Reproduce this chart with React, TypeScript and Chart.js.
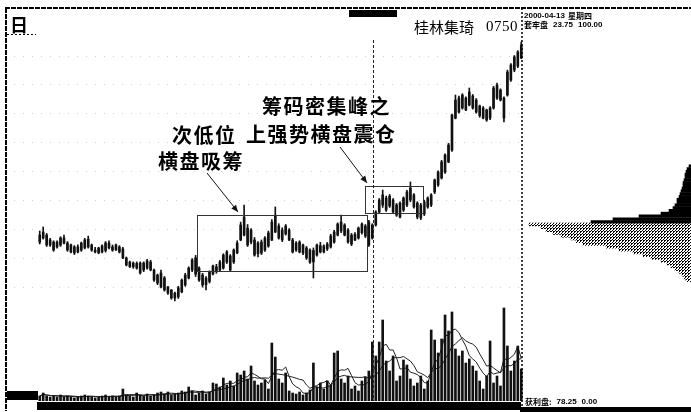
import React, { useEffect, useRef } from "react";
import { Chart, registerables } from "chart.js";

Chart.register(...registerables);

const PRICE_MIN = 3.94;
const PRICE_MAX = 28.0;
const VOL_MAX = 391;

const opens = [
  13.72, 13.97, 14.15, 13.85, 13.72, 13.42, 13.54, 13.97, 13.66, 13.54,
  13.05, 13.42, 13.23, 13.36, 13.9, 13.54, 13.23, 13.05, 13.11, 13.2,
  13.66, 13.42, 13.23, 13.42, 13.3, 12.74, 12.49, 12.2, 12.4, 12.43,
  12.0, 12.12, 12.49, 12.0, 11.69, 10.95, 11.51, 10.95, 10.77, 10.28,
  10.35, 10.65, 11.08, 11.51, 12.0, 12.75, 12.12, 11.69, 11.1, 11.3,
  11.75, 12.2, 12.0, 12.12, 12.49, 12.86, 12.49, 13.05, 13.85, 14.15,
  14.58, 13.72, 13.85, 13.0, 13.72, 13.23, 13.48, 13.85, 14.34, 14.71,
  14.46, 14.22, 14.46, 13.85, 13.23, 13.72, 13.05, 13.36, 13.23, 12.5,
  12.92, 13.5, 13.11, 13.3, 13.42, 13.72, 14.15, 14.4, 14.77, 14.46,
  13.6, 14.2, 13.97, 14.3, 14.71, 14.95, 13.97, 14.77, 15.57, 16.0,
  16.43, 15.94, 16.31, 15.38, 16.12, 15.69, 16.0, 16.31, 16.62, 16.12,
  15.2, 15.45, 15.88, 16.0, 16.8, 17.23, 17.66, 18.03, 18.65, 19.38,
  21.35, 22.58, 21.97, 22.58, 22.15, 22.71, 22.46, 21.5, 21.97, 21.23,
  21.97, 21.97, 22.58, 23.08, 22.58, 22.77, 23.69, 24.31, 25.42, 25.05,
];

const closes = [
  14.15, 14.34, 13.54, 13.54, 13.23, 13.72, 13.97, 13.66, 13.23, 13.11,
  13.42, 13.11, 13.66, 13.85, 13.42, 13.23, 13.11, 13.36, 13.48, 13.66,
  13.36, 13.23, 13.54, 13.11, 12.74, 12.31, 12.2, 12.43, 12.12, 11.82,
  12.43, 12.55, 12.0, 11.38, 11.2, 11.82, 10.77, 10.58, 10.28, 10.58,
  10.9, 11.38, 11.69, 12.12, 12.62, 11.75, 11.38, 11.08, 11.5, 11.88,
  12.25, 11.9, 12.49, 12.92, 13.11, 12.0, 13.23, 13.66, 14.77, 15.26,
  13.54, 14.46, 12.92, 13.66, 13.05, 13.97, 14.28, 14.95, 15.38, 13.97,
  13.85, 14.71, 13.85, 13.11, 13.66, 13.11, 13.54, 12.74, 12.49, 13.2,
  13.54, 13.11, 13.48, 13.6, 14.09, 14.34, 14.83, 14.95, 14.15, 13.72,
  14.15, 13.85, 14.58, 14.83, 14.09, 13.54, 14.77, 15.57, 16.31, 16.62,
  15.69, 16.55, 15.57, 16.0, 15.26, 16.43, 16.8, 17.05, 15.88, 15.26,
  16.0, 16.18, 16.43, 16.62, 17.54, 18.03, 18.65, 19.08, 19.69, 21.54,
  22.46, 21.72, 22.77, 21.85, 22.95, 21.97, 21.72, 22.09, 21.35, 21.85,
  21.35, 23.2, 23.38, 22.46, 21.35, 24.18, 24.62, 25.11, 24.55, 25.85,
];

const highs = [
  14.4, 14.65, 14.25, 13.95, 13.8, 13.8, 14.05, 14.15, 13.75, 13.6,
  13.5, 13.55, 13.72, 13.95, 14.09, 13.6, 13.4, 13.4, 13.55, 13.75,
  13.8, 13.54, 13.6, 13.5, 13.4, 12.8, 12.55, 12.5, 12.5, 12.5,
  12.5, 12.65, 12.6, 12.05, 11.75, 12.0, 11.6, 11.0, 10.8, 10.65,
  11.0, 11.45, 11.8, 12.2, 12.7, 12.9, 12.2, 11.8, 11.6, 11.95,
  12.3, 12.35, 12.6, 13.0, 13.2, 12.95, 13.3, 13.8, 14.95, 16.0,
  14.8, 14.55, 14.0, 13.75, 13.85, 14.05, 14.4, 15.1, 15.88, 14.85,
  14.6, 14.8, 14.55, 13.95, 13.75, 13.8, 13.6, 13.45, 13.3, 13.36,
  13.6, 13.7, 13.55, 13.7, 14.2, 14.45, 14.9, 15.38, 14.85, 14.55,
  14.25, 14.3, 14.65, 14.9, 14.8, 15.05, 14.85, 15.65, 16.4, 16.92,
  16.55, 16.65, 16.4, 16.1, 16.2, 16.5, 16.9, 17.42, 16.7, 16.2,
  16.1, 16.3, 16.5, 16.7, 17.6, 18.1, 18.75, 19.15, 19.8, 21.6,
  22.77, 22.7, 22.85, 22.65, 23.2, 22.8, 22.55, 22.15, 22.05, 21.9,
  22.05, 23.3, 23.5, 23.15, 22.65, 24.3, 24.7, 25.2, 25.5, 26.03,
];

const lows = [
  13.6, 13.9, 13.45, 13.45, 13.15, 13.35, 13.45, 13.6, 13.15, 13.05,
  12.95, 13.05, 13.15, 13.3, 13.35, 13.15, 13.05, 13.0, 13.05, 13.1,
  13.3, 13.15, 13.2, 13.05, 12.7, 12.25, 12.15, 12.1, 12.05, 11.75,
  11.9, 12.05, 11.95, 11.3, 11.1, 10.9, 10.7, 10.5, 10.2, 10.1,
  10.25, 10.6, 11.0, 11.45, 11.9, 11.6, 11.3, 10.95, 10.77, 11.2,
  11.7, 11.8, 11.95, 12.05, 12.4, 11.95, 12.4, 13.0, 13.8, 14.1,
  13.45, 13.6, 12.85, 12.8, 12.95, 13.15, 13.4, 13.8, 14.3, 13.9,
  13.75, 14.15, 13.8, 13.05, 13.15, 13.05, 12.95, 12.65, 12.4, 11.51,
  12.85, 13.05, 13.05, 13.2, 13.35, 13.65, 14.1, 14.3, 14.1, 13.65,
  13.5, 13.8, 13.9, 14.2, 14.0, 13.45, 13.9, 14.7, 15.5, 15.85,
  15.6, 15.85, 15.5, 15.3, 15.2, 15.6, 15.9, 16.2, 15.8, 15.15,
  15.1, 15.35, 15.8, 15.9, 16.7, 17.15, 17.6, 17.95, 18.6, 19.3,
  21.3, 21.65, 21.9, 21.8, 22.1, 21.9, 21.65, 21.4, 21.3, 21.15,
  21.25, 21.9, 22.5, 22.4, 21.11, 22.7, 23.6, 24.2, 24.45, 25.0,
];

const volumes = [
  5, 8, 5, 4, 5, 4, 6, 4, 5, 4,
  3, 4, 5, 6, 5, 4, 3, 4, 5, 6,
  4, 5, 4, 5, 12, 6, 5, 4, 8, 6,
  5, 7, 5, 6, 8, 9, 7, 9, 6, 7,
  8, 10, 9, 14, 10, 6, 8, 10, 7, 9,
  18, 17, 14, 23, 16, 20, 15, 28, 26, 30,
  22, 35, 20, 16, 18, 21, 12, 58, 44, 22,
  18, 28, 10, 8, 7, 9, 6, 8, 11, 38,
  14, 18, 12, 20, 16, 48, 50, 22, 18, 25,
  12, 15, 10, 20, 24, 30, 59, 45, 59, 81,
  40, 30, 45, 20, 25, 41, 36, 22, 15, 18,
  25, 12, 20, 71, 61, 48, 62, 86, 70, 89,
  52, 45, 50, 38, 42, 35, 30, 20, 12, 25,
  60, 18, 25, 15, 93, 55, 30, 40, 55, 32,
];

const days = opens.map((_, i) => String(i + 1));

const gridPrices = [25.2, 23.45, 21.66, 19.9, 18.1, 16.3, 14.5, 12.75, 10.95];

// chip distribution (profit = black, trapped = halftone)
const chipUpperPrices = [18.8, 18.6, 18.4, 18.2, 18.0, 17.8, 17.6, 17.4, 17.2, 17.0, 16.8, 16.6, 16.4, 16.2, 16.0, 15.8, 15.6, 15.4, 15.2, 15.0, 14.8];
const chipUpperAmounts = [2, 4, 5, 6, 6, 7, 8, 8, 9, 10, 11, 12, 14, 14, 16, 18, 22, 30, 52, 78, 100];
const chipLowerPrices = [14.6, 14.4, 14.2, 14.0, 13.8, 13.6, 13.4, 13.2, 13.0, 12.8, 12.6, 12.4, 12.2, 12.0, 11.8, 11.6, 11.4, 11.2, 11.0, 10.8, 10.6];
const chipLowerAmounts = [162, 150, 145, 138, 130, 120, 115, 108, 85, 72, 58, 48, 40, 30, 24, 20, 16, 12, 9, 7, 5];

const boxes = [
  { from: 45.4, to: 94.5, top: 15.38, bottom: 11.94 },
  { from: 93.9, to: 110.7, top: 17.17, bottom: 15.5 },
];
const markerIndex = 96.2;

function movingAverage(v: number[], n: number) {
  return v.map((_, i) => {
    const s = Math.max(0, i - n + 1);
    const w = v.slice(s, i + 1);
    return w.reduce((a, b) => a + b, 0) / w.length;
  });
}

function arrow(ctx: CanvasRenderingContext2D, x0: number, y0: number, x1: number, y1: number) {
  ctx.beginPath();
  ctx.moveTo(x0, y0);
  ctx.lineTo(x1, y1);
  ctx.stroke();
  const a = Math.atan2(y1 - y0, x1 - x0);
  const L = 7, Wd = 3;
  ctx.beginPath();
  ctx.moveTo(x1, y1);
  ctx.lineTo(x1 - L * Math.cos(a) + Wd * Math.sin(a), y1 - L * Math.sin(a) - Wd * Math.cos(a));
  ctx.lineTo(x1 - L * Math.cos(a) - Wd * Math.sin(a), y1 - L * Math.sin(a) + Wd * Math.cos(a));
  ctx.closePath();
  ctx.fill();
}

function runText(ctx: CanvasRenderingContext2D, x: number, y: number, parts: [string, string][], gap: number) {
  let cx = x;
  parts.forEach(([t, f]) => {
    ctx.font = f;
    ctx.fillText(t, cx, y);
    cx += ctx.measureText(t).width + gap;
  });
}

const decor = {
  id: "decor",
  beforeDatasetsDraw(chart: any) {
    const { ctx } = chart;
    const y = chart.scales.y;
    ctx.save();
    ctx.strokeStyle = "#cfcfcf";
    ctx.lineWidth = 1;
    ctx.setLineDash([1, 8]);
    gridPrices.forEach((p) => {
      const py = Math.round(y.getPixelForValue(p)) + 0.5;
      ctx.beginPath();
      ctx.moveTo(14, py);
      ctx.lineTo(520, py);
      ctx.stroke();
    });
    ctx.restore();
  },
  afterDraw(chart: any) {
    const { ctx } = chart;
    const x = chart.scales.x;
    const y = chart.scales.y;
    ctx.save();
    // boxes
    ctx.setLineDash([]);
    ctx.strokeStyle = "#333";
    ctx.lineWidth = 1;
    boxes.forEach((b) => {
      const x0 = Math.round(x.getPixelForValue(b.from)) + 0.5;
      const x1 = Math.round(x.getPixelForValue(b.to)) + 0.5;
      const y0 = Math.round(y.getPixelForValue(b.top)) + 0.5;
      const y1 = Math.round(y.getPixelForValue(b.bottom)) + 0.5;
      ctx.strokeRect(x0, y0, x1 - x0, y1 - y0);
    });
    // marker vertical dashed line
    const mx = Math.round(x.getPixelForValue(markerIndex)) + 0.5;
    ctx.setLineDash([3, 2]);
    ctx.strokeStyle = "#222";
    ctx.beginPath();
    ctx.moveTo(mx, 40);
    ctx.lineTo(mx, 401);
    ctx.stroke();

    // frame
    ctx.strokeStyle = "#000";
    ctx.lineWidth = 2;
    ctx.setLineDash([5, 1]);
    ctx.beginPath();
    ctx.moveTo(5, 8);
    ctx.lineTo(691, 8);
    ctx.stroke();
    ctx.beginPath();
    ctx.moveTo(6, 8);
    ctx.lineTo(6, 411);
    ctx.stroke();
    ctx.lineWidth = 1.5;
    ctx.setLineDash([2, 2]);
    ctx.beginPath();
    ctx.moveTo(522, 8);
    ctx.lineTo(522, 412);
    ctx.stroke();
    ctx.lineWidth = 1;
    ctx.beginPath();
    ctx.moveTo(7, 34.5);
    ctx.lineTo(36, 34.5);
    ctx.stroke();
    ctx.setLineDash([]);

    // black strips
    ctx.fillStyle = "#000";
    ctx.fillRect(7, 391, 31, 9);
    ctx.fillRect(37, 402, 484, 8);
    ctx.fillRect(520, 407, 171, 5);
    ctx.fillRect(349, 10, 48, 7);

    // arrows
    ctx.strokeStyle = "#111";
    ctx.fillStyle = "#111";
    ctx.lineWidth = 1;
    arrow(ctx, 207, 173, 238, 212);
    arrow(ctx, 340, 147, 367, 183);

    // texts
    ctx.fillStyle = "#000";
    ctx.textBaseline = "middle";
    ctx.textAlign = "left";
    ctx.font = 'bold 18px "Noto Sans CJK SC"';
    ctx.fillText("日", 10, 25);

    ctx.font = '15px "Noto Sans CJK SC"';
    (ctx as any).letterSpacing = "0px";
    ctx.fillText("桂林集琦", 414, 27);
    ctx.font = '15px "Liberation Serif"';
    (ctx as any).letterSpacing = "0.5px";
    ctx.fillText("0750", 486, 27);

    ctx.font = 'bold 20px "Noto Sans CJK SC"';
    (ctx as any).letterSpacing = "1.5px";
    ctx.fillText("次低位", 172, 135);
    ctx.fillText("横盘吸筹", 158, 161);
    ctx.fillText("筹码密集峰之", 262, 106);
    ctx.fillText("上强势横盘震仓", 246, 134);

    (ctx as any).letterSpacing = "0px";
    const num = 'bold 8px "Liberation Sans"';
    const cjk = 'bold 8px "Noto Sans CJK SC"';
    runText(ctx, 524, 16, [["2000-04-13", num], ["星期四", cjk]], 3);
    runText(ctx, 524, 25, [["套牢盘", cjk], ["23.75", num], ["100.00", num]], 5);
    runText(ctx, 525, 402, [["获利盘:", cjk], ["78.25", num], ["0.00", num]], 5);
    ctx.restore();
  },
};

export default function App() {
  const mainRef = useRef<HTMLCanvasElement>(null);
  const chipRef = useRef<HTMLCanvasElement>(null);

  useEffect(() => {
    const ma5 = movingAverage(volumes, 5);
    const ma10 = movingAverage(volumes, 10);
    const main = new Chart(mainRef.current!, {
      type: "bar",
      data: {
        labels: days,
        datasets: [
          {
            type: "bar",
            data: lows.map((l, i) => [l, highs[i]]) as any,
            backgroundColor: "#111",
            barThickness: 1,
            grouped: false,
            yAxisID: "y",
          } as any,
          {
            type: "bar",
            data: opens.map((o, i) => [o, closes[i]]) as any,
            backgroundColor: "#111",
            barThickness: 2,
            grouped: false,
            yAxisID: "y",
          } as any,
          {
            type: "bar",
            data: volumes,
            backgroundColor: "#111",
            barThickness: 2,
            grouped: false,
            yAxisID: "yv",
          } as any,
          {
            type: "line",
            data: ma5,
            borderColor: "#222",
            borderWidth: 1,
            pointRadius: 0,
            tension: 0,
            yAxisID: "yv",
          } as any,
          {
            type: "line",
            data: ma10,
            borderColor: "#222",
            borderWidth: 1,
            pointRadius: 0,
            tension: 0,
            yAxisID: "yv",
          } as any,
        ],
      },
      options: {
        responsive: false,
        animation: false,
        layout: { padding: { left: 38, right: 168, top: 10, bottom: 11 } },
        plugins: { legend: { display: false }, tooltip: { enabled: false } },
        scales: {
          x: { display: false },
          y: { display: false, min: PRICE_MIN, max: PRICE_MAX },
          yv: { display: false, min: 0, max: VOL_MAX },
        },
      },
      plugins: [decor],
    });

    const pc = document.createElement("canvas");
    pc.width = 3;
    pc.height = 3;
    const g = pc.getContext("2d")!;
    g.fillStyle = "#fff";
    g.fillRect(0, 0, 3, 3);
    g.fillStyle = "#000";
    g.fillRect(0, 0, 2, 1);
    g.fillRect(0, 1, 1, 1);
    g.fillRect(2, 2, 1, 1);
    const pctx = chipRef.current!.getContext("2d")!;
    const pat = pctx.createPattern(pc, "repeat");

    const chip = new Chart(chipRef.current!, {
      type: "bar",
      data: {
        datasets: [
          {
            data: chipUpperPrices.map((p, i) => ({ x: chipUpperAmounts[i], y: p })),
            backgroundColor: "#000",
            barThickness: 2.6,
            grouped: false,
          } as any,
          {
            data: chipLowerPrices.map((p, i) => ({ x: chipLowerAmounts[i], y: p })),
            backgroundColor: pat || "#888",
            barThickness: 2.8,
            grouped: false,
          } as any,
        ],
      },
      options: {
        indexAxis: "y",
        responsive: false,
        animation: false,
        layout: { padding: { left: 0, right: 0, top: 10, bottom: 11 } },
        plugins: { legend: { display: false }, tooltip: { enabled: false } },
        scales: {
          x: { type: "linear", display: false, min: 0, max: 168, reverse: true },
          y: { type: "linear", display: false, min: PRICE_MIN, max: PRICE_MAX },
        },
      },
    });

    return () => {
      main.destroy();
      chip.destroy();
    };
  }, []);

  return (
    <div style={{ position: "absolute", left: 0, top: 0, width: 691, height: 412, background: "#fff", overflow: "hidden" }}>
      <canvas ref={mainRef} width={691} height={412} style={{ position: "absolute", left: 0, top: 0 }} />
      <canvas ref={chipRef} width={168} height={412} style={{ position: "absolute", left: 523, top: 0 }} />
    </div>
  );
}
